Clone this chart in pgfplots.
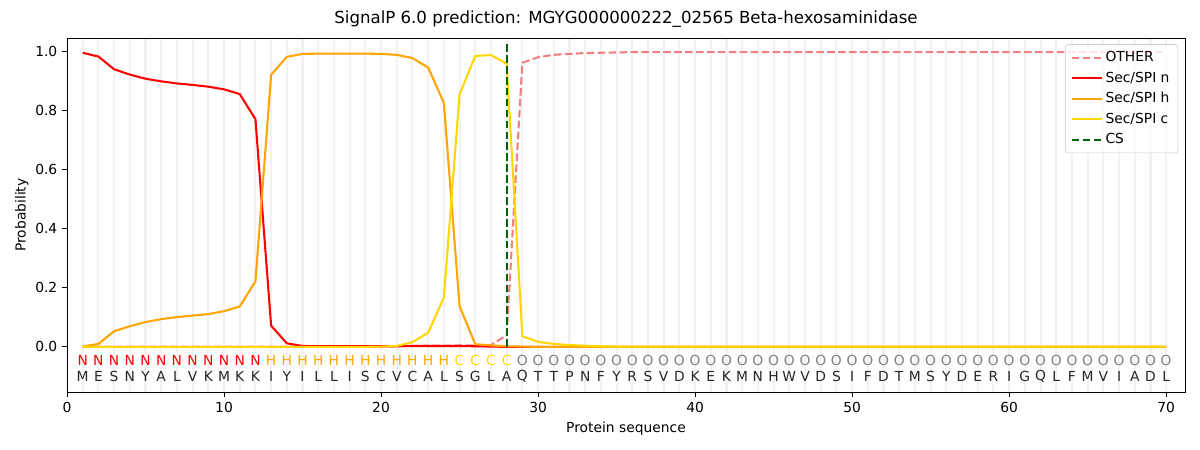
\documentclass[border=0pt]{standalone}
\usepackage{pgfplots}
\pgfplotsset{compat=1.18}
\usepackage{pgfplotstable}
\usepackage{fontspec}
\setmainfont{DejaVu Sans}
\definecolor{lcoral}{HTML}{F08080}
\definecolor{orng}{HTML}{FFA500}
\definecolor{gld}{HTML}{FFD700}
\definecolor{dgreen}{HTML}{006400}
\definecolor{band}{HTML}{F2F2F2}
\pgfplotstableread{
x other n h c
1 0.001 0.997 0.001 0.000
2 0.001 0.984 0.010 0.000
3 0.001 0.941 0.053 0.000
4 0.001 0.923 0.070 0.000
5 0.001 0.909 0.084 0.000
6 0.001 0.900 0.094 0.000
7 0.001 0.893 0.101 0.000
8 0.001 0.888 0.106 0.000
9 0.001 0.882 0.111 0.000
10 0.001 0.873 0.121 0.000
11 0.001 0.857 0.137 0.000
12 0.001 0.772 0.222 0.000
13 0.001 0.072 0.922 0.000
14 0.001 0.012 0.983 0.000
15 0.001 0.003 0.993 0.000
16 0.001 0.002 0.994 0.000
17 0.001 0.002 0.994 0.000
18 0.001 0.002 0.994 0.000
19 0.001 0.002 0.994 0.000
20 0.001 0.002 0.993 0.001
21 0.002 0.002 0.990 0.003
22 0.003 0.003 0.979 0.016
23 0.004 0.003 0.947 0.048
24 0.004 0.003 0.827 0.167
25 0.005 0.003 0.138 0.856
26 0.005 0.002 0.009 0.986
27 0.006 0.001 0.005 0.989
28 0.040 0.000 0.002 0.960
29 0.963 0.000 0.001 0.036
30 0.982 0.000 0.000 0.017
31 0.990 0.000 0.000 0.010
32 0.993 0.000 0.000 0.006
33 0.996 0.000 0.000 0.004
34 0.997 0.000 0.000 0.002
35 0.998 0.000 0.000 0.001
36 0.999 0.000 0.000 0.001
37 0.999 0.000 0.000 0.001
38 0.999 0.000 0.000 0.001
39 0.999 0.000 0.000 0.001
40 0.999 0.000 0.000 0.001
41 0.999 0.000 0.000 0.001
42 0.999 0.000 0.000 0.001
43 0.999 0.000 0.000 0.001
44 0.999 0.000 0.000 0.001
45 0.999 0.000 0.000 0.001
46 0.999 0.000 0.000 0.001
47 0.999 0.000 0.000 0.001
48 0.999 0.000 0.000 0.001
49 0.999 0.000 0.000 0.001
50 0.999 0.000 0.000 0.001
51 0.999 0.000 0.000 0.001
52 0.999 0.000 0.000 0.001
53 0.999 0.000 0.000 0.001
54 0.999 0.000 0.000 0.001
55 0.999 0.000 0.000 0.001
56 0.999 0.000 0.000 0.001
57 0.999 0.000 0.000 0.001
58 0.999 0.000 0.000 0.001
59 0.999 0.000 0.000 0.001
60 0.999 0.000 0.000 0.001
61 0.999 0.000 0.000 0.001
62 0.999 0.000 0.000 0.001
63 0.999 0.000 0.000 0.001
64 0.999 0.000 0.000 0.001
65 0.999 0.000 0.000 0.001
66 0.999 0.000 0.000 0.001
67 0.999 0.000 0.000 0.001
68 0.999 0.000 0.000 0.001
69 0.999 0.000 0.000 0.001
70 0.999 0.000 0.000 0.001
}\probs
\pgfplotstableread{
x l
1 M
2 E
3 S
4 N
5 Y
6 A
7 L
8 V
9 K
10 M
11 K
12 K
13 I
14 Y
15 I
16 L
17 L
18 I
19 S
20 C
21 V
22 C
23 A
24 L
25 S
26 G
27 L
28 A
29 Q
30 T
31 T
32 P
33 N
34 F
35 Y
36 R
37 S
38 V
39 D
40 K
41 E
42 K
43 M
44 N
45 H
46 W
47 V
48 D
49 S
50 I
51 F
52 D
53 T
54 M
55 S
56 Y
57 D
58 E
59 R
60 I
61 G
62 Q
63 L
64 F
65 M
66 V
67 I
68 A
69 D
70 L
}\seq
\begin{document}
\begin{tikzpicture}
\begin{axis}[
  scale only axis, width=11.18in, height=3.54in,
  xmin=0, xmax=71.2, ymin=-0.153, ymax=1.047,
  xtick={0,10,...,70}, ytick={0,0.2,...,1.0},
  yticklabel style={/pgf/number format/fixed,/pgf/number format/fixed zerofill,/pgf/number format/precision=1},
  /pgf/number format/assume math mode=true,
  tick align=outside, tick style={black, line width=0.6pt}, major tick length=3.5pt,
  xtick pos=bottom, ytick pos=left,
  axis line style={line width=0.6pt},
  axis on top,
  title={\fontsize{12}{14}\selectfont SignalP 6.0 prediction: MGYG000000222\_02565 Beta-hexosaminidase},
  title style={yshift=-2pt},
  xlabel={Protein sequence}, ylabel={Probability},
  xlabel style={yshift=0pt}, ylabel style={yshift=-2pt},
  ticklabel style={font=\fontsize{10}{12}\selectfont},
  label style={font=\fontsize{10}{12}\selectfont},
  legend style={at={(rel axis cs:1,1)}, anchor=north east, xshift=-5pt, yshift=-4.5pt,
    draw=black!20, fill=white, fill opacity=0.8, text opacity=1, rounded corners=2pt,
    font=\fontsize{10}{12}\selectfont,
    row sep=1.9pt, inner xsep=4pt, inner ysep=3pt, cells={anchor=west}},
  legend cell align=left,
  legend image code/.code={\draw[#1] (0cm,0cm) -- (0.76cm,0cm);},
  clip=false,
]
% background bands at each residue
\addplot[ycomb, band, line width=1.5pt, forget plot] table[x=x, y expr=1.047] {\seq};
\addplot[ycomb, band, line width=1.5pt, forget plot] table[x=x, y expr=-0.153] {\seq};
\addplot[lcoral, line width=1.5pt, dash pattern=on 5.5pt off 2.4pt] table[x=x,y=other] {\probs};
\addlegendentry{OTHER}
\addplot[red, line width=1.5pt] table[x=x,y=n] {\probs};
\addlegendentry{Sec/SPI n}
\addplot[orng, line width=1.5pt] table[x=x,y=h] {\probs};
\addlegendentry{Sec/SPI h}
\addplot[gld, line width=1.5pt] table[x=x,y=c] {\probs};
\addlegendentry{Sec/SPI c}
\addplot[dgreen, line width=1.5pt, dash pattern=on 5.5pt off 2.4pt] coordinates {(28,0) (28,1.035)};
\addlegendentry{CS}
% region labels
\addplot[draw=none, forget plot, nodes near coords, point meta=explicit symbolic,
  nodes near coords style={anchor=center, text=red, font=\fontsize{10}{12}\selectfont}]
  table[x=x, y expr=-0.047, meta=l] {
x l
1 N
2 N
3 N
4 N
5 N
6 N
7 N
8 N
9 N
10 N
11 N
12 N
};
\addplot[draw=none, forget plot, nodes near coords, point meta=explicit symbolic,
  nodes near coords style={anchor=center, text=orng, font=\fontsize{10}{12}\selectfont}]
  table[x=x, y expr=-0.047, meta=l] {
x l
13 H
14 H
15 H
16 H
17 H
18 H
19 H
20 H
21 H
22 H
23 H
24 H
};
\addplot[draw=none, forget plot, nodes near coords, point meta=explicit symbolic,
  nodes near coords style={anchor=center, text=gld, font=\fontsize{10}{12}\selectfont}]
  table[x=x, y expr=-0.047, meta=l] {
x l
25 C
26 C
27 C
28 C
};
\addplot[draw=none, forget plot, nodes near coords, point meta=explicit symbolic,
  nodes near coords style={anchor=center, text=gray, font=\fontsize{10}{12}\selectfont}]
  table[x=x, y expr=-0.047, meta=l] {
x l
29 O
30 O
31 O
32 O
33 O
34 O
35 O
36 O
37 O
38 O
39 O
40 O
41 O
42 O
43 O
44 O
45 O
46 O
47 O
48 O
49 O
50 O
51 O
52 O
53 O
54 O
55 O
56 O
57 O
58 O
59 O
60 O
61 O
62 O
63 O
64 O
65 O
66 O
67 O
68 O
69 O
70 O
};
\addplot[draw=none, forget plot, nodes near coords, point meta=explicit symbolic,
  nodes near coords style={anchor=center, text=black!85, font=\fontsize{10}{12}\selectfont}]
  table[x=x, y expr=-0.099, meta=l] {\seq};
\coordinate (ll) at (rel axis cs:0,0);
\coordinate (ur) at (rel axis cs:1,1);
\end{axis}
\pgfresetboundingbox
\path ([shift={(-0.67in,-0.58in)}]ll) rectangle ([shift={(0.15in,0.38in)}]ur);
\end{tikzpicture}
\end{document}
